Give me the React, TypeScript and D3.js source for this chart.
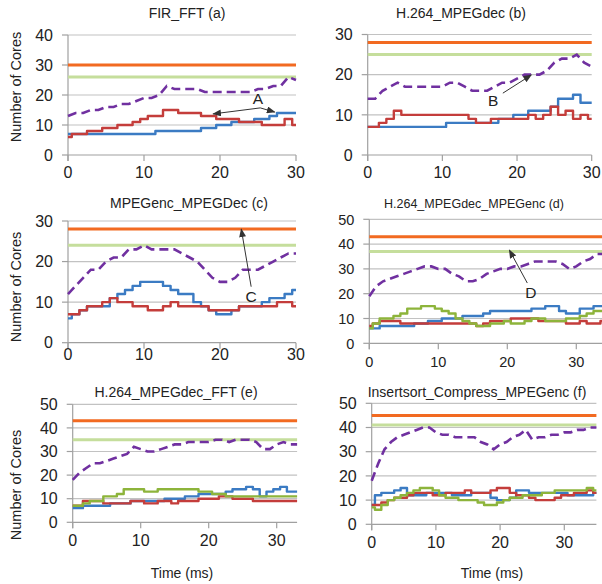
import React from 'react';
import * as d3 from 'd3';

// time in ms is the array index, values are number of cores
const ORANGE = '#f26a21';
const LIME = '#c5de9c';
const PURPLE = '#7030a0';
const BLUE = '#3b7bc3';
const RED = '#c43d3b';
const GREEN = '#8db43b';

// (a) FIR_FFT
const firFftOrange = 30;
const firFftLime = 26;
const firFftPurple = [13,14,14,15,15,16,16,17,17,18,19,19,20,23,22,22,22,22,21,21,21,21,21,21,21,22,22,23,23,26,25];
const firFftBlue = [7,7,7,7,7,7,7,7,7,7,7,7,8,8,8,8,8,8,9,9,10,10,11,11,11,12,12,13,14,14,14];
const firFftRed = [6,7,7,8,8,9,9,10,10,11,12,13,13,15,15,14,14,14,13,13,12,12,12,11,11,11,10,10,10,12,10];

// (b) H.264_MPEGdec
const h264DecOrange = 28;
const h264DecLime = 25;
const h264DecPurple = [14,14,16,17,18,17,17,17,17,17,17,18,18,17,16,16,16,17,18,18,19,20,20,20,21,23,24,24,25,23,22];
const h264DecBlue = [7,7,7,7,7,7,7,7,7,7,7,8,8,8,8,8,8,8,9,9,10,10,11,11,11,12,14,14,15,13,13];
const h264DecRed = [7,7,8,9,11,10,10,10,10,10,10,10,10,10,9,8,8,9,9,9,9,9,10,9,10,12,10,11,9,10,9];

// (c) MPEGenc_MPEGDec
const encDecOrange = 28;
const encDecLime = 24;
const encDecPurple = [12,14,16,18,18,20,21,21,23,23,24,23,23,23,23,22,21,20,18,16,15,15,16,18,18,18,19,20,21,22,22];
const encDecBlue = [6,7,8,9,9,9,11,12,13,14,15,15,15,14,13,12,12,10,9,8,7,7,8,9,9,9,10,11,11,12,13];
const encDecRed = [7,7,8,9,9,10,11,10,10,9,9,8,8,9,10,9,9,9,9,8,8,8,8,9,9,9,9,9,10,10,9];

// (d) H.264_MPEGdec_MPEGenc
const decEncOrange = 43;
const decEncLime = 37;
const decEncPurple = [19,23,25,26,27,28,29,30,31,31,30,30,28,27,25,25,26,28,29,30,30,31,31,32,33,33,33,33,32,30,31,33,34,36,36];
const decEncBlue = [6,6,7,7,7,7,7,8,8,9,9,10,10,10,11,11,11,12,13,13,13,13,13,13,14,14,15,15,13,12,12,14,14,15,15];
const decEncRed = [7,8,9,9,9,8,8,8,8,8,8,8,8,8,8,8,7,8,9,9,9,10,10,10,10,9,9,9,9,8,8,9,8,8,9];
const decEncGreen = [6,8,10,10,11,12,14,14,15,15,14,13,12,10,9,8,7,7,8,8,9,8,8,9,10,10,9,9,9,10,10,11,12,13,13];

// (e) H.264_MPEGdec_FFT
const decFftOrange = 43;
const decFftLime = 35;
const decFftPurple = [18,21,23,25,25,26,27,28,29,32,31,30,30,31,32,33,33,34,34,34,34,35,35,34,35,35,35,34,31,31,33,34,33,33];
const decFftBlue = [6,6,7,7,7,7,8,8,8,9,9,9,9,9,10,10,10,11,11,12,12,12,12,13,14,14,15,14,11,13,14,15,13,13];
const decFftRed = [7,7,9,9,9,8,8,8,8,9,9,8,8,9,9,8,9,9,9,10,10,10,11,11,10,10,10,9,9,9,9,9,9,9];
const decFftGreen = [7,7,8,9,9,11,11,12,14,14,14,13,13,14,14,14,14,14,14,13,13,12,12,11,11,11,11,11,11,11,11,11,11,11];

// (f) Insertsort_Compress_MPEGenc
const iscOrange = 45;
const iscLime = 41;
const iscPurple = [18,25,31,34,36,37,38,39,40,40,38,37,37,36,36,36,36,34,33,31,33,34,36,37,39,35,36,36,37,37,38,38,39,39,40,40];
const iscBlue = [8,12,13,13,14,15,12,12,12,13,13,13,13,12,12,12,13,13,13,11,10,10,11,14,14,13,13,13,13,13,13,12,12,12,12,13];
const iscRed = [8,8,9,10,11,11,12,13,13,13,12,12,13,13,13,14,13,13,13,14,15,15,13,12,12,11,10,10,10,11,12,12,13,13,14,13];
const iscGreen = [7,6,8,10,11,12,13,14,15,15,14,12,11,11,10,10,10,9,8,8,9,10,11,11,12,12,12,13,13,14,14,14,14,14,15,14];

const xTickValues = [0, 10, 20, 30];

const panels = [
  { title: 'FIR_FFT (a)', xMax: 30, yMax: 40, left: 68, right: 296, top: 35, bottom: 155,
    titleX: 187, titleY: 18, tickY: 178, font: 16, titleFont: 14, yLabel: 87,
    orange: firFftOrange, lime: firFftLime, purple: firFftPurple, blue: firFftBlue, red: firFftRed, green: null,
    notes: [{ label: 'A', x: 25, y: 19, arrows: [[25.3, 15.7, 19.1, 13.7], [25.3, 15.7, 27.2, 14.3]] }] },
  { title: 'H.264_MPEGdec (b)', xMax: 30, yMax: 30, left: 367.7, right: 591.7, top: 34.5, bottom: 155,
    titleX: 461, titleY: 18, tickY: 178, font: 16, titleFont: 14,
    orange: h264DecOrange, lime: h264DecLime, purple: h264DecPurple, blue: h264DecBlue, red: h264DecRed, green: null,
    notes: [{ label: 'B', x: 16.8, y: 13.7, arrows: [[18.1, 15.4, 21.9, 19.9]] }] },
  { title: 'MPEGenc_MPEGDec (c)', xMax: 30, yMax: 30, left: 68, right: 296, top: 221, bottom: 342.7,
    titleX: 189, titleY: 208, tickY: 360, font: 16, titleFont: 14, yLabel: 287,
    orange: encDecOrange, lime: encDecLime, purple: encDecPurple, blue: encDecBlue, red: encDecRed, green: null,
    notes: [{ label: 'C', x: 24.1, y: 11.4, arrows: [[24.1, 13.8, 22.8, 28]] }] },
  { title: 'H.264_MPEGdec_MPEGenc (d)', xMax: 34, yMax: 50, left: 369.3, right: 603.9, top: 219.3, bottom: 343.3,
    titleX: 474, titleY: 208, tickY: 367, font: 14.5, titleFont: 12.5,
    orange: decEncOrange, lime: decEncLime, purple: decEncPurple, blue: decEncBlue, red: decEncRed, green: decEncGreen,
    notes: [{ label: 'D', x: 23.4, y: 20.5, arrows: [[22.9, 24.3, 20.3, 37.6]] }] },
  { title: 'H.264_MPEGdec_FFT (e)', xMax: 33, yMax: 50, left: 72.7, right: 297.1, top: 404.3, bottom: 522.3,
    titleX: 176, titleY: 397, tickY: 546, font: 16, titleFont: 14, yLabel: 485, xLabel: 182,
    orange: decFftOrange, lime: decFftLime, purple: decFftPurple, blue: decFftBlue, red: decFftRed, green: decFftGreen,
    notes: [] },
  { title: 'Insertsort_Compress_MPEGenc (f)', xMax: 35, yMax: 50, left: 371.7, right: 596.4, top: 403.3, bottom: 524.3,
    titleX: 477, titleY: 397, tickY: 548, font: 16, titleFont: 14, xLabel: 492,
    orange: iscOrange, lime: iscLime, purple: iscPurple, blue: iscBlue, red: iscRed, green: iscGreen,
    notes: [] },
];

const FONT = '"Liberation Sans", Arial, Helvetica, sans-serif';

function Panel({ p }: { p: any }) {
  const x = d3.scaleLinear().domain([0, p.xMax]).range([p.left, p.right]);
  const y = d3.scaleLinear().domain([0, p.yMax]).range([p.bottom, p.top]);
  const yTicks = d3.range(0, p.yMax + 1, 10);
  const stepLine = d3.line<number>().x((d, i) => x(i)).y(d => y(d)).curve(d3.curveStep);
  const plainLine = d3.line<number>().x((d, i) => x(i)).y(d => y(d));
  // constant capacity lines span the whole time axis
  const flatPath = (v: number) => `M${x(0)},${y(v)}H${x(p.xMax)}`;

  return (
    <g>
      <text x={p.titleX} y={p.titleY} textAnchor="middle" fontSize={p.titleFont} fill="#222">{p.title}</text>
      {yTicks.map(t => (
        <g key={t}>
          <line x1={x(0)} x2={x(p.xMax)} y1={y(t)} y2={y(t)} stroke={t === 0 ? '#a0a0a0' : '#c2c2c2'} strokeWidth={1.2} />
          <line x1={x(0) - 6} x2={x(0)} y1={y(t)} y2={y(t)} stroke="#a0a0a0" strokeWidth={1.2} />
          <text x={x(0) - 15} y={y(t)} dy="0.36em" textAnchor="end" fontSize={p.font} fill="#222">{t}</text>
        </g>
      ))}
      <line x1={x(0)} x2={x(0)} y1={y(0) + 6} y2={y(p.yMax)} stroke="#a0a0a0" strokeWidth={1.2} />
      {xTickValues.map(t => (
        <g key={t}>
          <line x1={x(t)} x2={x(t)} y1={y(0)} y2={y(0) + 6} stroke="#a0a0a0" strokeWidth={1.2} />
          <text x={x(t)} y={p.tickY} textAnchor="middle" fontSize={p.font} fill="#222">{t}</text>
        </g>
      ))}
      <path d={flatPath(p.orange)} stroke={ORANGE} strokeWidth={3} fill="none" />
      <path d={flatPath(p.lime)} stroke={LIME} strokeWidth={3} fill="none" />
      <path d={plainLine(p.purple) || ''} stroke={PURPLE} strokeWidth={2.6} strokeDasharray="9,5" fill="none" />
      <path d={stepLine(p.blue) || ''} stroke={BLUE} strokeWidth={2.4} fill="none" strokeLinejoin="round" />
      <path d={stepLine(p.red) || ''} stroke={RED} strokeWidth={2.4} fill="none" strokeLinejoin="round" />
      {p.green && <path d={stepLine(p.green) || ''} stroke={GREEN} strokeWidth={2.4} fill="none" strokeLinejoin="round" />}
      {p.notes.map((n: any) => (
        <g key={n.label}>
          {n.arrows.map((a: number[], i: number) => (
            <line key={i} x1={x(a[0])} y1={y(a[1])} x2={x(a[2])} y2={y(a[3])} stroke="#333" strokeWidth={1} markerEnd="url(#arrowHead)" />
          ))}
          <text x={x(n.x)} y={y(n.y)} dy="0.36em" textAnchor="middle" fontSize={15.5} fill="#222">{n.label}</text>
        </g>
      ))}
      {p.yLabel !== undefined && (
        <text transform={`translate(21,${p.yLabel}) rotate(-90)`} textAnchor="middle" fontSize={14.5} fill="#222">Number of Cores</text>
      )}
      {p.xLabel !== undefined && (
        <text x={p.xLabel} y={578} textAnchor="middle" fontSize={14} fill="#222">Time (ms)</text>
      )}
    </g>
  );
}

export default function App() {
  return (
    <svg width={602} height={584} style={{ position: 'absolute', left: 0, top: 0, background: '#fff' }} fontFamily={FONT}>
      <defs>
        <marker id="arrowHead" viewBox="0 0 10 8" refX={9} refY={4} markerWidth={9} markerHeight={7} markerUnits="userSpaceOnUse" orient="auto">
          <path d="M0,0L10,4L0,8z" fill="#333" />
        </marker>
      </defs>
      {panels.map(p => <Panel key={p.title} p={p} />)}
    </svg>
  );
}
